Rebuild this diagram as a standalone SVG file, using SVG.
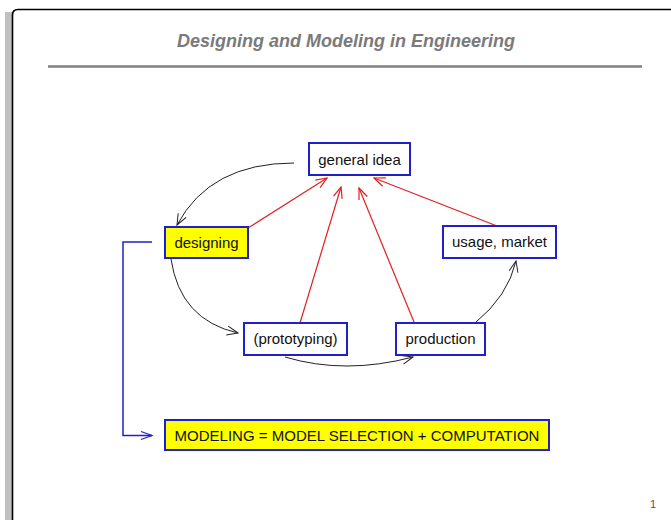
<svg xmlns="http://www.w3.org/2000/svg" width="671" height="520" viewBox="0 0 671 520">
  <style>
    .box { stroke: #2020c8; stroke-width: 2; }
    .plain { fill: #ffffff; }
    .hi { fill: #ffff00; }
    .lbl { font-family: "Liberation Sans", Arial, sans-serif; font-size: 15px; fill: #111; text-anchor: middle; }
    .flow { fill: none; stroke: #222; stroke-width: 1; }
    .ref { fill: none; stroke: #e02020; stroke-width: 1.2; }
    .link { fill: none; stroke: #2020c8; stroke-width: 1.5; }
  </style>
  <defs>
    <marker id="arrBlack" markerUnits="userSpaceOnUse" markerWidth="14" markerHeight="12" refX="12" refY="6" orient="auto">
      <path d="M1,1.5 L12,6 L1,10.5" fill="none" stroke="#222" stroke-width="1"/>
    </marker>
    <marker id="arrRed" markerUnits="userSpaceOnUse" markerWidth="14" markerHeight="12" refX="12" refY="6" orient="auto">
      <path d="M1,1.5 L12,6 L1,10.5" fill="none" stroke="#e02020" stroke-width="1.2"/>
    </marker>
    <marker id="arrBlue" markerUnits="userSpaceOnUse" markerWidth="14" markerHeight="12" refX="12" refY="6" orient="auto">
      <path d="M1,2 L12,6 L1,10" fill="none" stroke="#2020c8" stroke-width="1.2"/>
    </marker>
  </defs>

  <!-- page background and frame -->
  <rect width="671" height="520" fill="#ffffff"/>
  <rect x="5" y="12" width="7" height="508" fill="#c0c0c0"/>
  <path d="M12.5,520 L12.5,15 Q12.5,9.5 18,9.5 L671,9.5" fill="none" stroke="#000" stroke-width="1.6"/>

  <!-- title -->
  <text x="346" y="47" font-family="'Liberation Sans', Arial, sans-serif" font-size="18" font-weight="bold" font-style="italic" fill="#7a7a7a" text-anchor="middle">Designing and Modeling in Engineering</text>
  <line x1="48" y1="66.5" x2="642" y2="66.5" stroke="#808080" stroke-width="2.5"/>

  <!-- connectors -->
  <g id="connectors">
    <path class="flow" d="M294,163 Q210,163 177,225" marker-end="url(#arrBlack)"/>
    <path class="flow" d="M171,259 Q180,320 238,333" marker-end="url(#arrBlack)"/>
    <path class="flow" d="M285,357 Q345,375 413,357" marker-end="url(#arrBlack)"/>
    <path class="flow" d="M475,323 Q508,296 516,261" marker-end="url(#arrBlack)"/>
    <line class="ref" x1="248" y1="228" x2="327" y2="178" marker-end="url(#arrRed)"/>
    <line class="ref" x1="300" y1="323" x2="341" y2="187" marker-end="url(#arrRed)"/>
    <line class="ref" x1="414" y1="322" x2="359" y2="188" marker-end="url(#arrRed)"/>
    <line class="ref" x1="497" y1="226" x2="374" y2="178" marker-end="url(#arrRed)"/>
    <path class="link" d="M152,242 L123,242 L123,435.5 L152,435.5" marker-end="url(#arrBlue)"/>
  </g>

  <!-- nodes -->
  <g id="general-idea">
    <rect class="box plain" x="309" y="143" width="101" height="32"/>
    <text class="lbl" x="359.5" y="164.5">general idea</text>
  </g>
  <g id="designing">
    <rect class="box hi" x="165" y="227" width="83" height="31"/>
    <text class="lbl" x="206.5" y="248">designing</text>
  </g>
  <g id="usage-market">
    <rect class="box plain" x="443" y="226" width="113" height="32"/>
    <text class="lbl" x="499.5" y="247">usage, market</text>
  </g>
  <g id="prototyping">
    <rect class="box plain" x="244" y="323" width="103" height="32"/>
    <text class="lbl" x="295.5" y="344">(prototyping)</text>
  </g>
  <g id="production">
    <rect class="box plain" x="396" y="323" width="89" height="32"/>
    <text class="lbl" x="440.5" y="344">production</text>
  </g>
  <g id="modeling">
    <rect class="box hi" x="165" y="420" width="384" height="30"/>
    <text class="lbl" x="357" y="440.5">MODELING = MODEL SELECTION + COMPUTATION</text>
  </g>

  <!-- page number -->
  <text x="653" y="508" font-family="'Liberation Sans', Arial, sans-serif" font-size="11" fill="#555" text-anchor="middle">1</text>
</svg>
